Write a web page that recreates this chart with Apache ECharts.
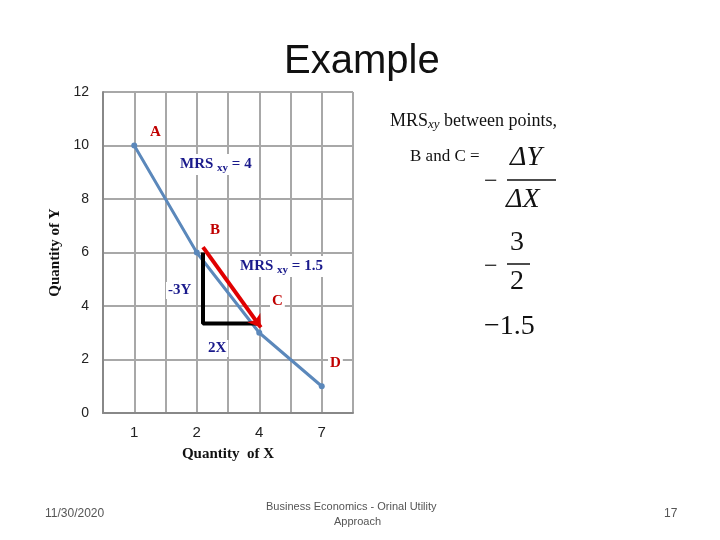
<!DOCTYPE html><html><head><meta charset="utf-8">
<script src="https://cdn.jsdelivr.net/npm/echarts@6/dist/echarts.min.js"></script>
<style>html,body{margin:0;background:#fff}#c{width:720px;height:540px}</style></head><body><div id="c"></div>
<script>
const xLabels = ['1','2','4','7'];
const xPos = [1,3,5,7];
const yValues = [10,6,3,1];
const pointNames = ['A','B','C','D'];
const yTicks = [0,2,4,6,8,10,12];
const chart = echarts.init(document.getElementById('c'));
const serif = 'Liberation Serif';
const lineData = xPos.map((x,i)=>[x,yValues[i]]);
function lab(x,y,text,color,size){return {type:'text',left:x,top:y,z:10,style:{text,fill:color,backgroundColor:'#fff',padding:[1,2],font:'bold '+(size||15)+'px "'+serif+'"'}};}
const rb = {font:'bold 15px "Liberation Serif"',fill:'#1a1a8c'};
const rs = {font:'bold 11px "Liberation Serif"',fill:'#1a1a8c',padding:[8,0,0,0]};
chart.setOption({
  animation:false,
  grid:{left:103,right:367,top:92,bottom:127},
  xAxis:{type:'value',min:0,max:8,interval:1,
    axisLine:{show:true,lineStyle:{color:'#888',width:2}},axisTick:{show:false},
    splitLine:{show:true,lineStyle:{color:'#a8a8a8',width:2}},
    axisLabel:{color:'#222',fontSize:15,fontFamily:'Liberation Sans',margin:12,
      formatter:v=>{const i=xPos.indexOf(v);return i>=0?xLabels[i]:'';}},
    name:'Quantity  of X',nameLocation:'middle',nameGap:34,
    nameTextStyle:{fontFamily:serif,fontWeight:'bold',fontSize:15,color:'#111'}},
  yAxis:{type:'value',min:0,max:12,interval:2,
    axisLine:{show:true,lineStyle:{color:'#888',width:2}},axisTick:{show:false},
    splitLine:{show:true,lineStyle:{color:'#a8a8a8',width:2}},
    axisLabel:{color:'#222',fontSize:14,fontFamily:'Liberation Sans',margin:14,
      formatter:v=>yTicks.includes(v)?String(v):''},
    name:'Quantity of Y',nameLocation:'middle',nameGap:40,
    nameTextStyle:{fontFamily:serif,fontWeight:'bold',fontSize:15,color:'#111'}},
  series:[
    {type:'line',data:lineData,symbol:'circle',symbolSize:6,
     lineStyle:{color:'#5b88bb',width:3},itemStyle:{color:'#5b88bb'},z:3},
    {type:'line',data:[[3.2,6],[3.2,3.35],[4.95,3.35]],symbol:'none',
     lineStyle:{color:'#000',width:4},z:4},
    {type:'lines',coordinateSystem:'cartesian2d',z:5,
     data:[{coords:[[3.2,6.2],[5.05,3.2]]}],symbol:['none','arrow'],symbolSize:12,
     lineStyle:{color:'#e00000',width:4,opacity:1}}
  ],
  graphic:[
    {type:'text',left:284,top:42,style:{text:'Example',fill:'#111',font:'40px "Liberation Sans"'}},
    lab(148,124,'A','#c00000'),
    lab(208,222,'B','#c00000'),
    lab(270,293,'C','#c00000'),
    lab(328,355,'D','#c00000'),
    {type:'text',left:178,top:154,z:10,style:{backgroundColor:'#fff',padding:[1,2],rich:{a:rb,s:rs},text:'{a|MRS }{s|xy}{a| = 4}'}},
    {type:'text',left:238,top:256,z:10,style:{backgroundColor:'#fff',padding:[1,2],rich:{a:rb,s:rs},text:'{a|MRS }{s|xy}{a| = 1.5}'}},
    lab(166,282,'-3Y','#1a1a8c'),
    lab(206,340,'2X','#1a1a8c'),
    {type:'text',left:390,top:112,style:{rich:{a:{font:'18px "Liberation Serif"',fill:'#111'},s:{font:'italic 13px "Liberation Serif"',fill:'#111',padding:[8,0,0,0]}},text:'{a|MRS}{s|xy}{a| between points,}'}},
    {type:'text',left:410,top:148,style:{text:'B and C =',fill:'#111',font:'17px "Liberation Serif"'}},
    {type:'text',left:484,top:170,style:{text:'−',fill:'#111',font:'24px "Liberation Serif"'}},
    {type:'text',left:510,top:144,style:{text:'ΔY',fill:'#111',font:'italic 28px "Liberation Serif"'}},
    {type:'line',shape:{x1:507,y1:180,x2:556,y2:180},style:{stroke:'#111',lineWidth:1.5}},
    {type:'text',left:506,top:186,style:{text:'ΔX',fill:'#111',font:'italic 28px "Liberation Serif"'}},
    {type:'text',left:484,top:255,style:{text:'−',fill:'#111',font:'24px "Liberation Serif"'}},
    {type:'text',left:510,top:229,style:{text:'3',fill:'#111',font:'28px "Liberation Serif"'}},
    {type:'line',shape:{x1:507,y1:264,x2:530,y2:264},style:{stroke:'#111',lineWidth:1.5}},
    {type:'text',left:510,top:268,style:{text:'2',fill:'#111',font:'28px "Liberation Serif"'}},
    {type:'text',left:484,top:313,style:{text:'−1.5',fill:'#111',font:'28px "Liberation Serif"'}},
    {type:'text',left:45,top:508,style:{text:'11/30/2020',fill:'#555',font:'12px "Liberation Sans"'}},
    {type:'text',left:266,top:501,style:{text:'Business Economics - Orinal Utility',fill:'#555',font:'11px "Liberation Sans"'}},
    {type:'text',left:334,top:516,style:{text:'Approach',fill:'#555',font:'11px "Liberation Sans"'}},
    {type:'text',left:664,top:508,style:{text:'17',fill:'#555',font:'12px "Liberation Sans"'}}
  ]
});
</script></body></html>
